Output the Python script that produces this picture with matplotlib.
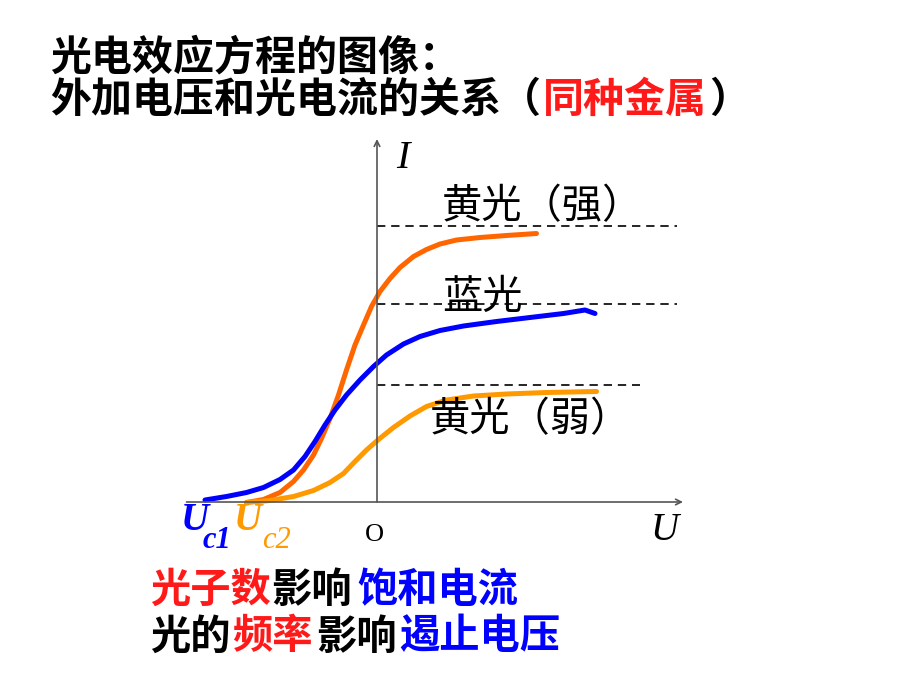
import matplotlib
matplotlib.use("Agg")
from matplotlib import pyplot as plt

plt.rcParams['font.family'] = ['Noto Sans CJK SC', 'DejaVu Sans']

# curves (U, I in arbitrary units, origin at O)
strong_u = [-2.61, -2.27, -1.94, -1.67, -1.47, -1.27, -1.11, -0.94, -0.77, -0.61,
            -0.44, -0.27, -0.11, 0.06, 0.26, 0.46, 0.73, 0.99, 1.26, 1.59,
            2.06, 2.59, 3.19]
strong_i = [-0.01, 0.05, 0.19, 0.41, 0.64, 0.94, 1.27, 1.67, 2.14, 2.64,
            3.14, 3.54, 3.91, 4.21, 4.47, 4.69, 4.91, 5.05, 5.16, 5.24,
            5.29, 5.33, 5.37]

blue_u = [-3.44, -3.01, -2.61, -2.27, -1.94, -1.67, -1.44, -1.24, -1.04, -0.84,
          -0.61, -0.34, -0.07, 0.19, 0.53, 0.86, 1.26, 1.73, 2.39, 3.06,
          3.73, 4.16, 4.36]
blue_i = [0.04, 0.11, 0.19, 0.29, 0.45, 0.64, 0.91, 1.21, 1.54, 1.84,
          2.14, 2.44, 2.71, 2.94, 3.16, 3.31, 3.43, 3.52, 3.61, 3.69,
          3.77, 3.84, 3.77]

weak_u = [-2.61, -2.14, -1.67, -1.27, -0.94, -0.67, -0.44, -0.21, 0.03, 0.33,
          0.66, 0.99, 1.39, 1.93, 2.59, 3.39, 4.39]
weak_i = [-0.01, 0.03, 0.11, 0.23, 0.39, 0.57, 0.81, 1.04, 1.25, 1.49,
          1.72, 1.91, 2.04, 2.12, 2.16, 2.19, 2.21]

# saturation currents (dashed guides) and where each guide ends
sat_levels = [5.52, 3.97, 2.34]
sat_ends = [6.0, 6.0, 5.26]

curve_labels = ['黄光（强）', '蓝光', '黄光（弱）']

title_lines = ['光电效应方程的图像：', '外加电压和光电流的关系', '（', '同种金属', '）']

ORANGE = '#FF6600'
YELLOW = '#FF9900'
BLUE = '#0000FF'
RED = '#FF1A1A'

fig = plt.figure(figsize=(9.2, 6.9), dpi=100)
ax = fig.add_axes([0, 0, 1, 1])
ax.set_xlim(-7.54, 10.86)
ax.set_ylim(-3.76, 10.04)
ax.axis('off')

# axes with arrows
ax.annotate('', xy=(6.12, 0), xytext=(-3.81, 0),
            arrowprops=dict(arrowstyle='->', color='#555555', lw=1.2, shrinkA=0, shrinkB=0))
ax.annotate('', xy=(0, 7.26), xytext=(0, 0),
            arrowprops=dict(arrowstyle='->', color='#555555', lw=1.2, shrinkA=0, shrinkB=0))

# dashed saturation lines
for lev, end in zip(sat_levels, sat_ends):
    ax.plot([0, end], [lev, lev], color='black', lw=1.2, ls=(0, (5, 3.5)))

style = dict(lw=3.6, solid_capstyle='round', solid_joinstyle='round')
ax.plot(strong_u, strong_i, color=ORANGE, **style)
ax.plot(blue_u, blue_i, color=BLUE, **style)
ax.plot(weak_u, weak_i, color=YELLOW, **style)

# curve labels
ax.text(1.30, 5.90, curve_labels[0], fontsize=29, va='center', ha='left')
ax.text(1.30, 4.10, curve_labels[1], fontsize=29, va='center', ha='left')
ax.text(1.06, 1.64, curve_labels[2], fontsize=29, va='center', ha='left')

# axis letters
serif = 'Liberation Serif'
ax.text(0.52, 6.88, 'I', family=serif, style='italic', fontsize=29, ha='center', va='center')
ax.text(5.76, -0.56, 'U', family=serif, style='italic', fontsize=28, ha='center', va='center')
ax.text(-0.06, -0.66, 'O', family=serif, fontsize=19, ha='center', va='center')

# stopping voltages
ax.text(-3.92, -0.36, 'U', family=serif, style='italic', weight='bold', fontsize=28,
        color=BLUE, ha='left', va='center')
ax.text(-3.48, -0.76, 'c1', family=serif, style='italic', weight='bold', fontsize=22,
        color=BLUE, ha='left', va='center')
ax.text(-2.86, -0.36, 'U', family=serif, style='italic', weight='bold', fontsize=28,
        color=YELLOW, ha='left', va='center')
ax.text(-2.30, -0.76, 'c2', family=serif, style='italic', fontsize=22,
        color=YELLOW, ha='left', va='center')

# title
fig.text(50 / 920, 1 - 57 / 690, title_lines[0], fontsize=29.5, weight='bold', va='center')
fig.text(50 / 920, 1 - 100 / 690, title_lines[1], fontsize=29.5, weight='bold', va='center')
fig.text(541 / 920, 1 - 100 / 690, title_lines[2], fontsize=29.5, weight='bold', va='center', ha='right')
fig.text(543 / 920, 1 - 100 / 690, title_lines[3], fontsize=29.5, weight='bold', va='center', color=RED)
fig.text(709 / 920, 1 - 100 / 690, title_lines[4], fontsize=29.5, weight='bold', va='center')

# bottom notes
y1 = 1 - 590 / 690
y2 = 1 - 637 / 690
for x, s, c in [(150, '光子数', RED), (271, '影响', 'black'), (357, '饱和电流', BLUE)]:
    fig.text(x / 920, y1, s, fontsize=29, weight='bold', va='center', color=c)
for x, s, c in [(150, '光的', 'black'), (232, '频率', RED), (316, '影响', 'black'), (399, '遏止电压', BLUE)]:
    fig.text(x / 920, y2, s, fontsize=29, weight='bold', va='center', color=c)

fig.savefig('out.png', dpi=100)
